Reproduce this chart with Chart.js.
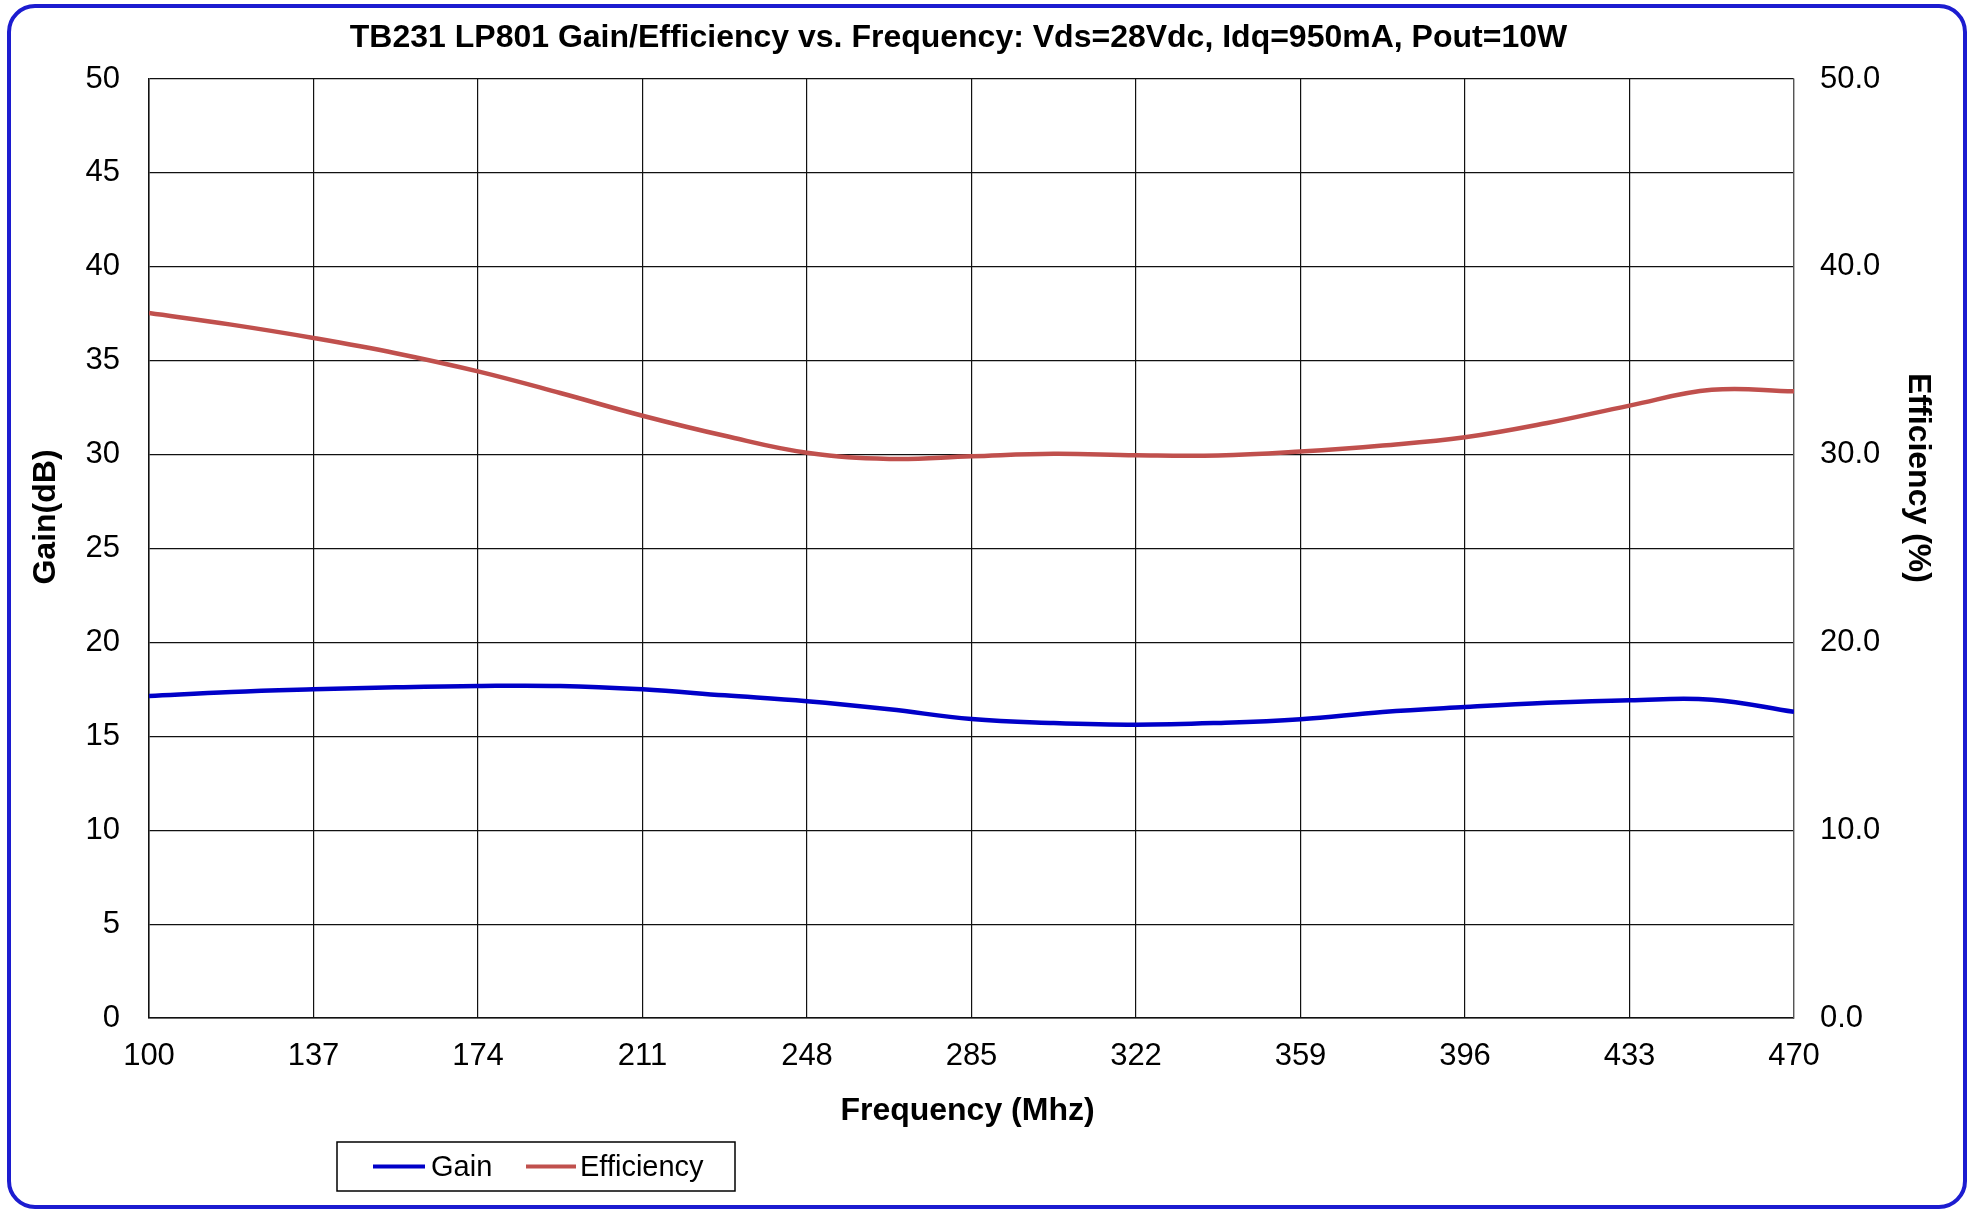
<!DOCTYPE html>
<html><head><meta charset="utf-8">
<script src="https://cdn.jsdelivr.net/npm/chart.js@4.4.1/dist/chart.umd.min.js"></script>
<style>html,body{margin:0;padding:0;background:#fff;overflow:hidden}#wrap{width:1973px;height:1213px;position:relative}</style>
</head><body><div id="wrap"><canvas id="c" width="1973" height="1213"></canvas></div>
<script>
const frequencies = [100, 118.5, 137, 155.5, 174, 192.5, 211, 229.5, 248, 266.5, 285, 303.5, 322, 340.5, 359, 377.5, 396, 414.5, 433, 451.5, 470];
const gainValues = [17.15, 17.36, 17.50, 17.61, 17.68, 17.68, 17.50, 17.18, 16.87, 16.44, 15.92, 15.71, 15.62, 15.71, 15.91, 16.30, 16.56, 16.78, 16.92, 16.95, 16.30];
const efficiencyValues = [37.54, 36.92, 36.21, 35.40, 34.43, 33.28, 32.07, 31.00, 30.10, 29.77, 29.91, 30.04, 29.96, 29.95, 30.16, 30.48, 30.92, 31.68, 32.61, 33.45, 33.37];
const xTickValues = [100, 137, 174, 211, 248, 285, 322, 359, 396, 433, 470];
const titleText = 'TB231 LP801 Gain/Efficiency vs. Frequency: Vds=28Vdc, Idq=950mA, Pout=10W';
const xTitle = 'Frequency (Mhz)';
const yTitle = 'Gain(dB)';
const y1Title = 'Efficiency (%)';
const gainColor = '#0000c8';
const effColor = '#c0504d';
const FONT = "'Liberation Sans', Arial, sans-serif";

const toPoints = vals => frequencies.map((f, i) => ({x: f, y: vals[i]}));

const decor = {
  id: 'decor',
  beforeDraw(chart) {
    const ctx = chart.ctx;
    ctx.save();
    ctx.fillStyle = '#fff';
    ctx.fillRect(0, 0, chart.width, chart.height);
    ctx.restore();
  },
  afterDraw(chart) {
    const ctx = chart.ctx;
    const ca = chart.chartArea;
    ctx.save();
    ctx.strokeStyle = '#1c1cd0';
    ctx.lineWidth = 4;
    ctx.beginPath();
    ctx.roundRect(9, 6, 1956, 1201, 26);
    ctx.stroke();
    ctx.fillStyle = '#000';
    ctx.font = 'bold 32px ' + FONT;
    ctx.textAlign = 'center';
    ctx.textBaseline = 'middle';
    ctx.fillText(xTitle, (ca.left + ca.right) / 2 - 4, 1111);
    ctx.save();
    ctx.translate(46, 517);
    ctx.rotate(-Math.PI / 2);
    ctx.fillText(yTitle, 0, 0);
    ctx.restore();
    ctx.save();
    ctx.translate(1918, 478);
    ctx.rotate(Math.PI / 2);
    ctx.fillText(y1Title, 0, 0);
    ctx.restore();
    const lx = 337, ly = 1142, lw = 398, lh = 49;
    ctx.strokeStyle = '#000';
    ctx.lineWidth = 1.5;
    ctx.strokeRect(lx, ly, lw, lh);
    const cy = ly + lh / 2;
    ctx.font = '29px ' + FONT;
    ctx.textAlign = 'left';
    const items = [
      {ds: chart.data.datasets[0], x0: 373, x1: 425, tx: 431},
      {ds: chart.data.datasets[1], x0: 526, x1: 576, tx: 580}
    ];
    items.forEach(it => {
      ctx.strokeStyle = it.ds.borderColor;
      ctx.lineWidth = 4;
      ctx.beginPath();
      ctx.moveTo(it.x0, cy);
      ctx.lineTo(it.x1, cy);
      ctx.stroke();
      ctx.fillStyle = '#000';
      ctx.fillText(it.ds.label, it.tx, cy + 1);
    });
    ctx.restore();
  }
};

new Chart(document.getElementById('c'), {
  type: 'line',
  data: {
    datasets: [
      {label: 'Gain', data: toPoints(gainValues), yAxisID: 'y', borderColor: gainColor, backgroundColor: gainColor,
       borderWidth: 4.5, pointRadius: 0, tension: 0.4, fill: false},
      {label: 'Efficiency', data: toPoints(efficiencyValues), yAxisID: 'y1', borderColor: effColor, backgroundColor: effColor,
       borderWidth: 4.5, pointRadius: 0, tension: 0.4, fill: false}
    ]
  },
  options: {
    responsive: false,
    devicePixelRatio: 1,
    animation: false,
    layout: {padding: {left: 20, right: 76, top: 0, bottom: 0}},
    plugins: {
      legend: {display: false},
      tooltip: {enabled: false},
      title: {
        display: true, text: titleText, color: '#000',
        font: {family: FONT, size: 32, weight: 'bold', lineHeight: 1.2},
        padding: {top: 18.5, bottom: 22.1}
      }
    },
    scales: {
      x: {
        type: 'linear', min: 100, max: 470,
        grid: {color: '#111', lineWidth: 1.2, drawTicks: false},
        border: {color: '#111', width: 1.5},
        ticks: {color: '#000', font: {family: FONT, size: 31}, padding: 20, maxRotation: 0, autoSkip: false,
                callback: v => String(v)},
        afterBuildTicks(s) { s.ticks = xTickValues.map(v => ({value: v})); },
        afterFit(s) { s.height = 195; }
      },
      y: {
        position: 'left', min: 0, max: 50,
        grid: {color: '#111', lineWidth: 1.2, drawTicks: false},
        border: {color: '#111', width: 1.5},
        ticks: {stepSize: 5, color: '#000', font: {family: FONT, size: 31}, padding: 29},
        afterFit(s) { s.width = 129; }
      },
      y1: {
        position: 'right', min: 0, max: 50,
        grid: {drawOnChartArea: false, drawTicks: false},
        border: {color: '#555', width: 1.2},
        ticks: {stepSize: 10, color: '#000', font: {family: FONT, size: 31}, padding: 26,
                callback: v => Number(v).toFixed(1)},
        afterFit(s) { s.width = 103; }
      }
    }
  },
  plugins: [decor]
});
</script>
</body></html>
